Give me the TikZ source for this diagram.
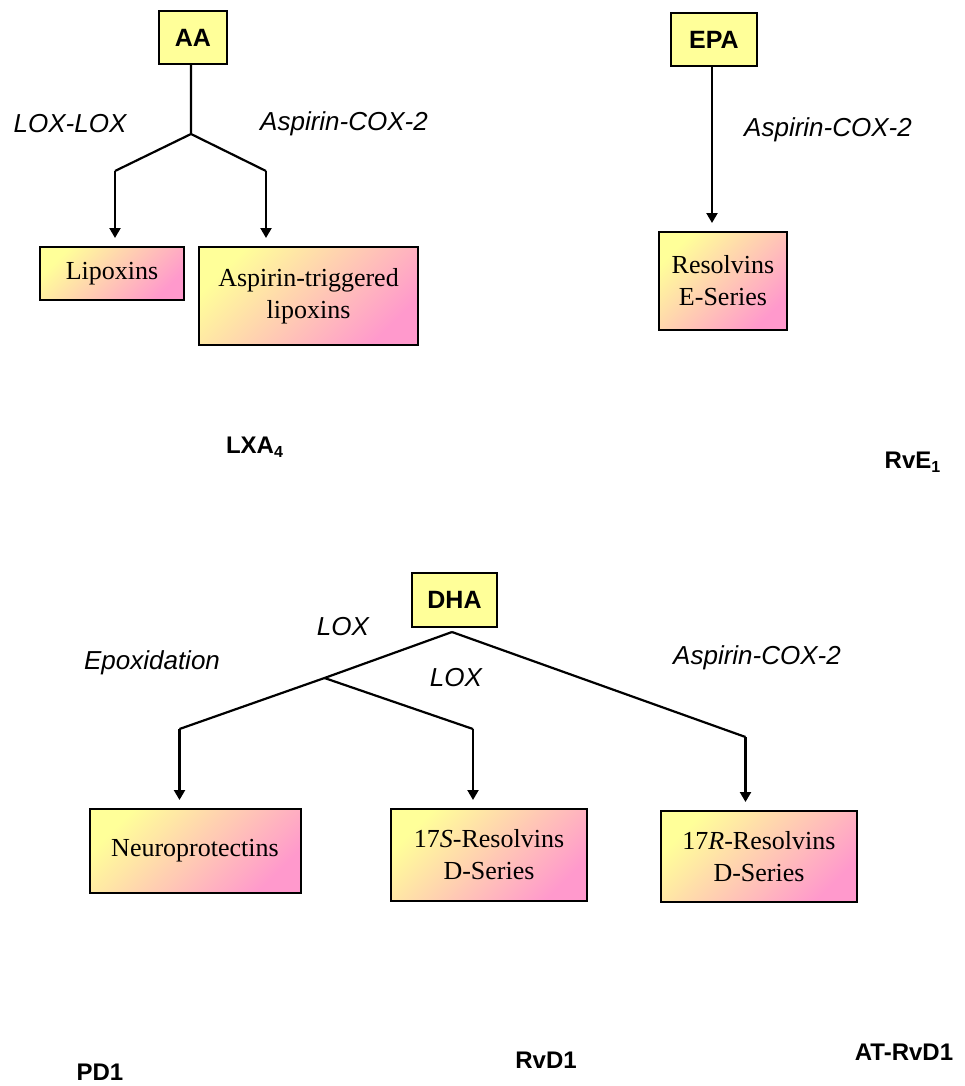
\documentclass[tikz,border=0pt]{standalone}
\usepackage{fontspec}
\setmainfont{Liberation Serif}
\setsansfont{Liberation Sans}
\usetikzlibrary{arrows.meta}
\definecolor{srcyellow}{HTML}{FFFF99}
\definecolor{boxpink}{HTML}{FF99CC}
\definecolor{boxpeach}{HTML}{FFD6A8}

\begin{document}
\begin{tikzpicture}
		[x=0.5pt, y=-0.5pt,
		srcbox/.style={draw, line width=1pt, fill=srcyellow, inner sep=0pt, font=\sffamily\bfseries\fontsize{12.5}{14}\selectfont},
		prodbox/.style={draw, line width=1pt, inner sep=0pt, align=center, top color=srcyellow, middle color=boxpeach, bottom color=boxpink, shading angle=45, font=\fontsize{13}{16}\selectfont},
		enzlabel/.style={font=\sffamily\itshape\fontsize{13}{15}\selectfont},
		medlabel/.style={font=\sffamily\bfseries\fontsize{12}{14}\selectfont},
		flowline/.style={line width=1.1pt},
		flowarrow/.style={line width=1.1pt, -{Triangle[width=5.5pt, length=5pt]}, shorten >=4pt}
		]
		\useasboundingbox (0,0) rectangle (964,1086);
		\begin{scope}
			% precursors
			\node[srcbox, minimum width=34pt, minimum height=26.5pt] (AA) at (193,37.5) {AA};
			\node[srcbox, minimum width=43pt, minimum height=26.5pt] (EPA) at (714,39.5) {EPA};
			\node[srcbox, minimum width=42.5pt, minimum height=27pt] (DHA) at (454.5,600) {DHA};
			% products
			\node[prodbox, minimum width=72pt, minimum height=26.5pt] (LX) at (112,273.5) {Lipoxins};
			\node[prodbox, minimum width=109.5pt, minimum height=49pt] (ATL) at (308.5,296) {Aspirin-triggered\\lipoxins};
			\node[prodbox, minimum width=64pt, minimum height=49pt] (RvE) at (723,281) {Resolvins\\E-Series};
			\node[prodbox, minimum width=105.5pt, minimum height=42pt] (NPD) at (195,851) {Neuroprotectins};
			\node[prodbox, minimum width=98pt, minimum height=46pt] (RvDS) at (489,855) {17\textit{S}-Resolvins\\D-Series};
			\node[prodbox, minimum width=98pt, minimum height=45.5pt] (RvDR) at (759,856.5) {17\textit{R}-Resolvins\\D-Series};
			% enzymes
			\node[enzlabel] (lxlox) at (70,124) {LOX-LOX};
			\node[enzlabel] (lxcox) at (344,124) {Aspirin-COX-2};
			\node[enzlabel] (rvecox) at (828,130) {Aspirin-COX-2};
			\node[enzlabel] (epox) at (152,663) {Epoxidation};
			\node[enzlabel] (loxa) at (343,627) {LOX};
			\node[enzlabel] (loxb) at (456,678) {LOX};
			\node[enzlabel] (rvdcox) at (757,658) {Aspirin-COX-2};
			% mediators
			\node[medlabel] (LXA) at (255,447) {LXA\textsubscript{4}};
			\node[medlabel] (RvEone) at (913,462) {RvE\textsubscript{1}};
			\node[medlabel] (PD) at (100,1072) {PD1};
			\node[medlabel] (RvDone) at (546,1060) {RvD1};
			\node[medlabel] (ATRvD) at (904,1052) {AT-RvD1};
		\end{scope}
		% branch points
		\coordinate (aaj) at (191,134);
		\coordinate (aal) at (115,171);
		\coordinate (aar) at (266,171);
		\coordinate (dhaj) at (452,632);
		\coordinate (dhal) at (324.5,678);
		\coordinate (npdk) at (179.5,729);
		\coordinate (rvdsk) at (473,729);
		\coordinate (rvdrk) at (745.5,737);
		\draw[flowline] (AA.south -| aaj) -- (aaj) -- (aal);
		\draw[flowline] (aaj) -- (aar);
		\draw[flowline] (dhaj) -- (dhal) -- (npdk);
		\draw[flowline] (dhal) -- (rvdsk);
		\draw[flowline] (dhaj) -- (rvdrk);
		\foreach \k/\b in {aal/LX, aar/ATL, npdk/NPD, rvdsk/RvDS, rvdrk/RvDR}
		\draw[flowarrow] (\k) -- (\k |- \b.north);
		\draw[flowarrow] (EPA.south -| 712,0) -- (RvE.north -| 712,0);
	\end{tikzpicture}
\end{document}
